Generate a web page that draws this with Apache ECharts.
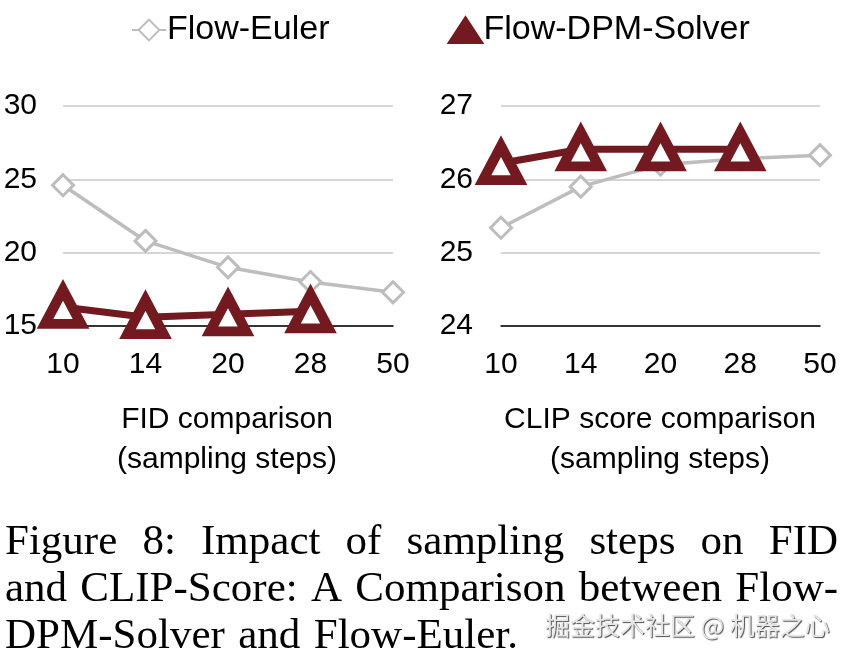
<!DOCTYPE html>
<html><head><meta charset="utf-8">
<script src="https://cdn.jsdelivr.net/npm/echarts@6/dist/echarts.min.js"></script>
<style>html,body{margin:0;padding:0;background:#fff}#c{width:850px;height:661px}</style>
</head><body><div id="c"></div>
<script>
const steps = ['10','14','20','28','50'];
const fidEuler = [24.6, 20.8, 19.0, 18.0, 17.3];
const fidDPM = [16.3, 15.6, 15.8, 16.0];
const clipEuler = [25.34, 25.9, 26.2, 26.28, 26.33];
const clipDPM = [26.22, 26.41, 26.41, 26.41];
const fidTicks = {min: 15, max: 30, interval: 5};
const clipTicks = {min: 24, max: 27, interval: 1};
const captionLines = [
  'Figure 8:  Impact of sampling steps on FID',
  'and CLIP-Score: A Comparison between Flow-',
  'DPM-Solver and Flow-Euler.'
];

const chart = echarts.init(document.getElementById('c'));
const SANS = '"Liberation Sans", Arial, sans-serif';
const SERIF = '"Liberation Serif", "Times New Roman", serif';
const gray = '#bdbdbd', red = '#721a1f';

function xAx(i){return {type:'category',gridIndex:i,data:steps,boundaryGap:false,
  axisLine:{lineStyle:{color:'#000',width:1.5}},axisTick:{show:false},
  axisLabel:{color:'#000',fontSize:30,fontFamily:SANS,margin:24}};}
function yAx(i,t,m){return {type:'value',gridIndex:i,min:t.min,max:t.max,interval:t.interval,
  axisLine:{show:false},axisTick:{show:false},
  splitLine:{lineStyle:{color:'#c8c8c8',width:1.5}},
  axisLabel:{color:'#000',fontSize:30,fontFamily:SANS,margin:m}};}
function euler(i,d){return {name:'Flow-Euler',type:'line',xAxisIndex:i,yAxisIndex:i,data:d,
  symbol:'diamond',symbolSize:21,itemStyle:{color:'#fff',borderColor:gray,borderWidth:3},
  lineStyle:{color:gray,width:3.5},z:2};}
function dpm(i,d){return {name:'Flow-DPM-Solver',type:'line',xAxisIndex:i,yAxisIndex:i,data:d,
  symbol:'triangle',symbolSize:[36,34],itemStyle:{color:'#fff',borderColor:red,borderWidth:10},
  lineStyle:{color:red,width:7},z:3};}

// caption justification
const mc = document.createElement('canvas').getContext('2d');
const capFont = 43;
mc.font = capFont + 'px ' + SERIF;
const capGraphics = [];
const capLeft = 5, capRight = 838, capTop0 = 521, capLH = 47;
captionLines.forEach((ln, li) => {
  const words = ln.split(/\s+/);
  const y = capTop0 + li * capLH;
  if (li === captionLines.length - 1) {
    const gap = mc.measureText(' ').width * 1.25;
    let x = capLeft;
    words.forEach(w => {
      capGraphics.push({type:'text',left:x,top:y,style:{text:w,font:capFont+'px '+SERIF,fill:'#000'}});
      x += mc.measureText(w).width + gap;
    });
    return;
  }
  const widths = words.map(w => mc.measureText(w).width);
  const total = widths.reduce((a,b)=>a+b,0);
  const gap = (capRight - capLeft - total) / (words.length - 1);
  let x = capLeft;
  words.forEach((w, k) => {
    capGraphics.push({type:'text',left:x,top:y,style:{text:w,font:capFont+'px '+SERIF,fill:'#000'}});
    x += widths[k] + gap;
  });
});

chart.setOption({
  backgroundColor:'#fff',
  animation:false,
  legend:{top:8,left:126,itemGap:118,itemWidth:34,itemHeight:26,
    textStyle:{fontSize:34,fontFamily:SANS,color:'#000',padding:[0,0,0,-4]},
    data:[{name:'Flow-Euler'},
          {name:'Flow-DPM-Solver',icon:'triangle',itemStyle:{color:red,borderColor:red}}]},
  grid:[{left:63,right:457,top:106,bottom:335},{left:501,right:30,top:106,bottom:335}],
  xAxis:[xAx(0),xAx(1)],
  yAxis:[yAx(0,fidTicks,26),yAx(1,clipTicks,28)],
  series:[euler(0,fidEuler),dpm(0,fidDPM),euler(1,clipEuler),dpm(1,clipDPM)],
  graphic:[
    {type:'text',x:227,y:400,style:{text:'FID comparison\n(sampling steps)',font:'30px '+SANS,fill:'#000',align:'center',lineHeight:40}},
    {type:'text',x:660,y:400,style:{text:'CLIP score comparison\n(sampling steps)',font:'30px '+SANS,fill:'#000',align:'center',lineHeight:40}},
    ...capGraphics,
    {type:'text',left:545,top:613,style:{text:'掘金技术社区 @ 机器之心',font:'25px "Noto Sans CJK SC", sans-serif',fill:'#e6e6e6',
      textShadowColor:'rgba(0,0,0,0.7)',textShadowBlur:1,textShadowOffsetX:1,textShadowOffsetY:1},z:10}
  ]
});
</script></body></html>
